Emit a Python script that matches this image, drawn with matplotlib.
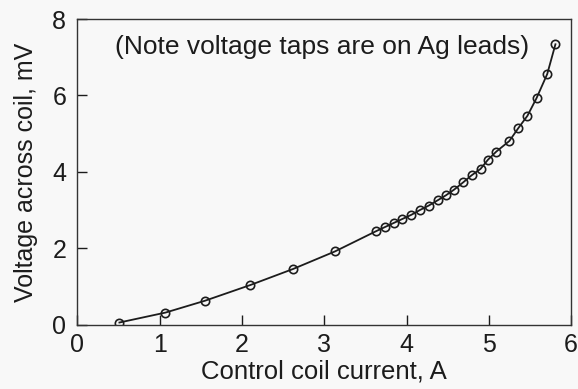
import matplotlib
matplotlib.use('Agg')
import matplotlib.pyplot as plt

# Control coil current (A) vs voltage across coil (mV)
current = [0.51, 1.07, 1.55, 2.10, 2.62, 3.13, 3.63, 3.74, 3.85, 3.95,
           4.06, 4.16, 4.27, 4.38, 4.48, 4.58, 4.69, 4.79, 4.90, 4.99,
           5.09, 5.25, 5.36, 5.47, 5.58, 5.71, 5.81]
voltage = [0.06, 0.32, 0.63, 1.04, 1.46, 1.92, 2.45, 2.56, 2.67, 2.77,
           2.88, 3.00, 3.12, 3.26, 3.39, 3.54, 3.73, 3.91, 4.08, 4.32,
           4.53, 4.81, 5.15, 5.47, 5.93, 6.56, 7.34]

x_ticks = [0, 1, 2, 3, 4, 5, 6]
y_ticks = [0, 2, 4, 6, 8]

plt.rcParams['font.family'] = ['Liberation Sans', 'DejaVu Sans']
bg = '#f8f8f8'
ink = '#1c1c1c'

fig = plt.figure(figsize=(5.78, 3.89), dpi=100, facecolor=bg)
ax = fig.add_axes([0.134, 0.165, 0.854, 0.786], facecolor=bg)

ax.plot(current, voltage, color=ink, lw=1.3, marker='o', ms=6,
        mfc='none', mec=ink, mew=1.2)

ax.set_xlim(0, 6)
ax.set_ylim(0, 8)
ax.set_xticks(x_ticks)
ax.set_yticks(y_ticks)
ax.tick_params(direction='in', length=7, width=1, labelsize=18,
               colors=ink)
ax.tick_params(axis='y', pad=8)
ax.tick_params(axis='x', pad=6)
for s in ax.spines.values():
    s.set_linewidth(1)
    s.set_color('#333333')

ax.set_xlabel('Control coil current, A', fontsize=18.5, color=ink, labelpad=2)
ax.set_ylabel('Voltage across coil, mV', fontsize=18, color=ink, labelpad=10)

ax.text(0.46, 7.26, '(Note voltage taps are on Ag leads)', fontsize=19,
        color=ink, va='center', ha='left')

plt.savefig('out.png', dpi=100, facecolor=bg)
